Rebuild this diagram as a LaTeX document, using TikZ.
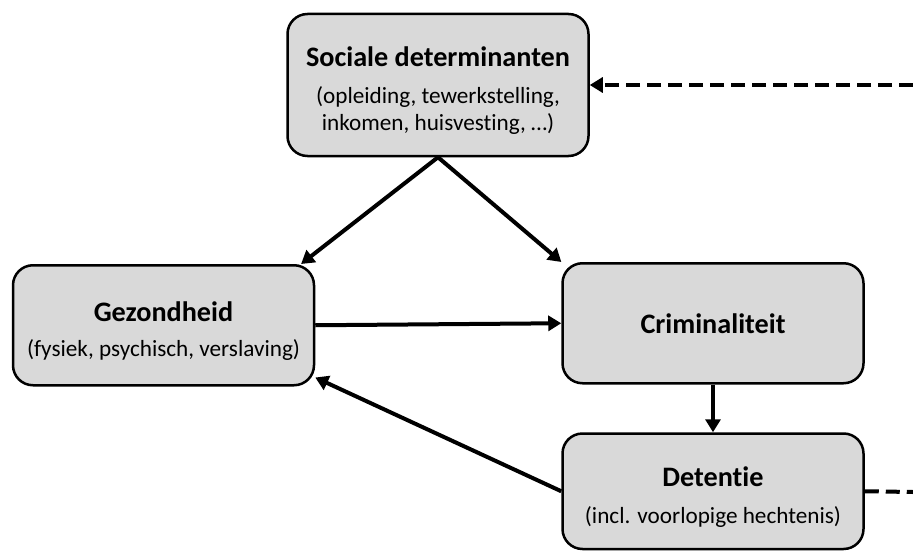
\documentclass[tikz,border=0pt]{standalone}
\usepackage{fontspec}
\setmainfont[Ligatures=NoCommon]{Carlito}
\usetikzlibrary{arrows.meta,positioning}
\definecolor{boxgray}{HTML}{D9D9D9}

\begin{document}
\begin{tikzpicture}[box/.style={draw, line width=2.5pt, rounded corners=20pt, fill=boxgray, align=center, minimum width=301pt, inner sep=0pt, font=\fontsize{23.2}{27}\selectfont},
	link/.style={line width=4pt, -{Triangle[length=13pt,width=15pt]}},
	ext/.style={line width=4pt, dash pattern=on 14pt off 7pt}]
			\useasboundingbox (0,0) rectangle (913pt,-551pt);
			\node[box, minimum height=142pt] (soc) at (438pt,-85pt) {\rule{0pt}{31pt}\textbf{\fontsize{28.2}{32}\selectfont Sociale determinanten}\\[10pt](opleiding, tewerkstelling,\\inkomen, huisvesting, …)};
			\node[box, minimum height=120pt, below=106.75pt of soc, xshift=-274.5pt] (gez) {\rule{0pt}{31pt}\textbf{\fontsize{28.2}{32}\selectfont Gezondheid}\\[8pt](fysiek, psychisch, verslaving)};
			\node[box, minimum height=120pt, below=104.75pt of soc, xshift=275pt] (crim) {\textbf{\fontsize{28.2}{32}\selectfont Criminaliteit}};
			\node[box, minimum height=115.5pt, below=47.75pt of crim] (det) {\rule{0pt}{31pt}\textbf{\fontsize{28.2}{32}\selectfont Detentie}\\[10pt](incl. voorlopige hechtenis)};
			\coordinate (socin) at (913pt,-85pt);
			\coordinate (detout) at (913pt,-492pt);
			
			\draw [link] (soc.south) -- (gez.24);
			\draw [link] (soc.south) -- (crim.158);
			\draw [link] (gez.east) -- (crim.west);
			\draw [link] (crim.south) -- (det.north);
			\draw [link] (det.west) -- (gez.341);
			\draw [ext, -{Triangle[length=13pt,width=15pt]}] (socin) -- (soc.east);
			\draw [ext] (det.east) -- (detout);
		\end{tikzpicture}
\end{document}
